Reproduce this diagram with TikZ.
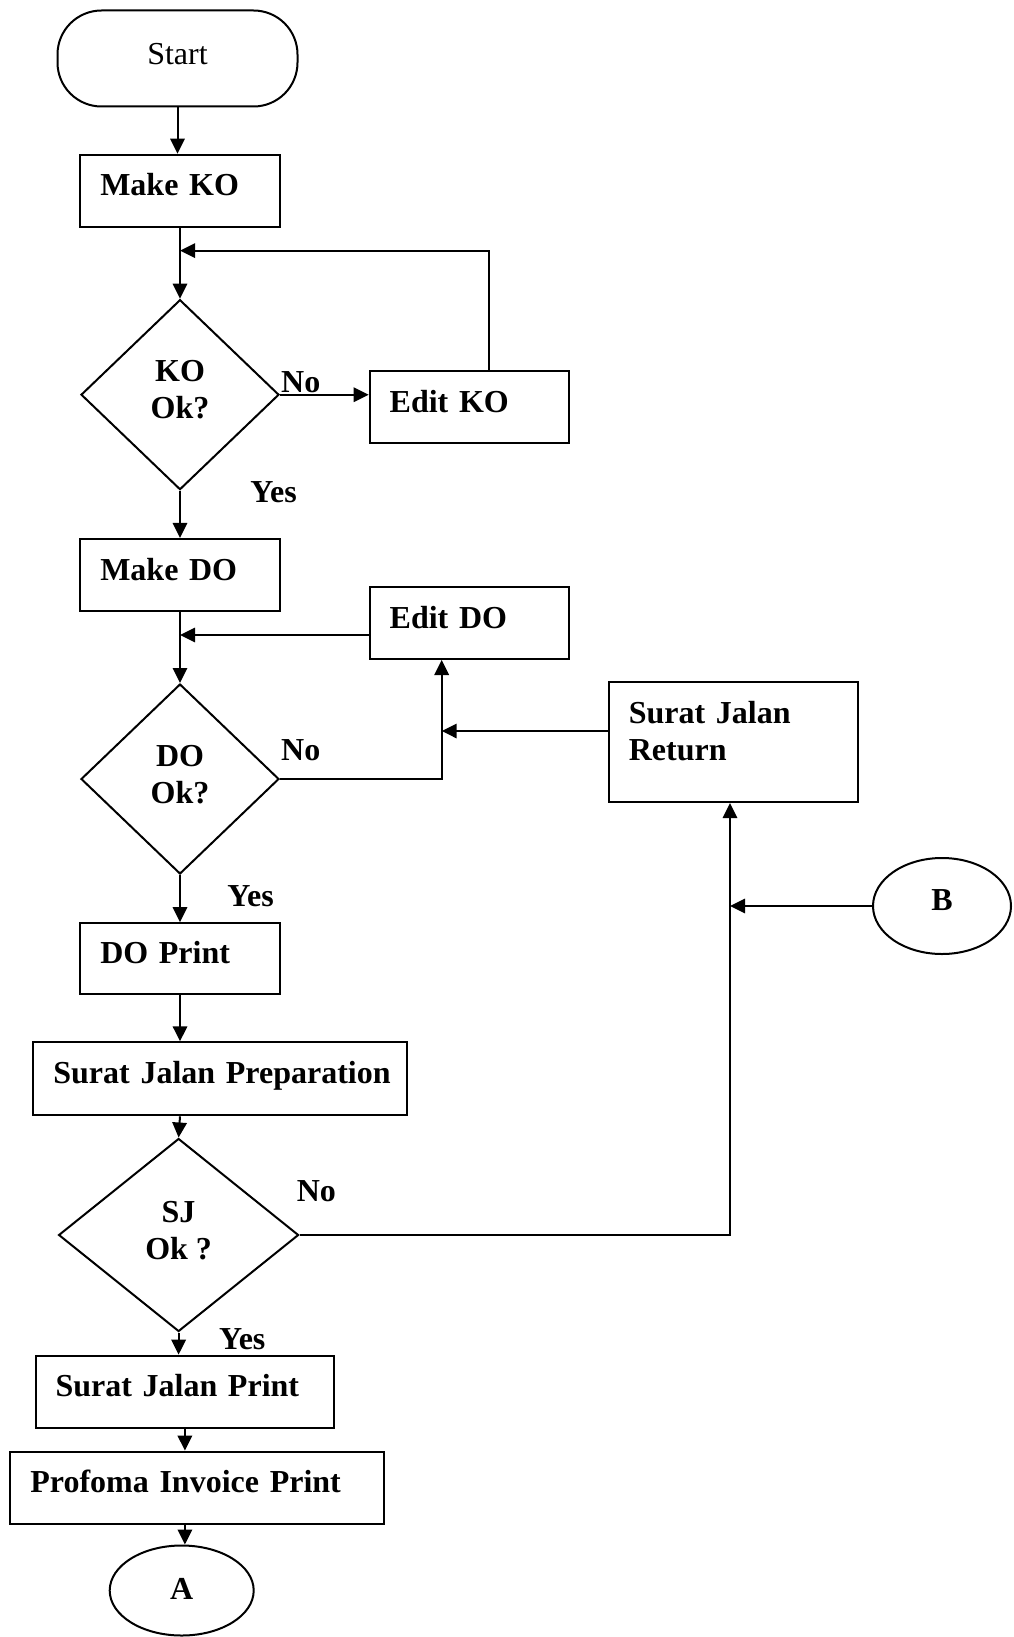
\documentclass[tikz,border=0pt]{standalone}
\usepackage{fontspec}
\setmainfont{Liberation Serif}
\usetikzlibrary{shapes.geometric,arrows.meta}
\begin{document}
\begin{tikzpicture}[x=0.5pt,y=-0.5pt,
  every node/.style={font=\fontsize{16}{18.5}\selectfont\bfseries},
  proc/.style={draw,line width=1pt,rectangle,inner xsep=10pt,inner ysep=0pt,align=left},
  decision/.style={draw,line width=1pt,diamond,inner sep=0pt,align=center,text depth=5pt},
  terminal/.style={draw,line width=1pt,rounded corners=22pt,minimum width=120pt,minimum height=48pt,
    text depth=5pt,font=\fontsize{16}{18.5}\selectfont},
  connector/.style={draw,line width=1pt,ellipse,inner sep=0pt},
  flow/.style={line width=1pt,-{Triangle[length=7.5pt,width=7.2pt]}},
  lbl/.style={inner sep=0pt}]
\useasboundingbox (0,0) rectangle (1013,1637);

% main column
\node[terminal] (start) at (177.5,58.5) {Start};
\node[proc,minimum width=99.75pt,minimum height=36pt,text width=79.75pt,text depth=6pt] (mko) at (180,190.6) {Make KO};
\node[decision,minimum width=99pt,minimum height=95pt] (kod) at (180,394.7) {KO\\Ok?};
\node[proc,minimum width=99.7pt,minimum height=36pt,text width=79.7pt,text depth=5.5pt] (eko) at (469.4,406.8) {Edit KO};
\node[proc,minimum width=99.75pt,minimum height=36pt,text width=79.75pt,text depth=6pt] (mdo) at (180,574.9) {Make DO};
\node[proc,minimum width=99.7pt,minimum height=36pt,text width=79.7pt,text depth=6pt] (edo) at (469.4,623) {Edit DO};
\node[decision,minimum width=99pt,minimum height=95pt] (dod) at (180,779) {DO\\Ok?};
\node[proc,minimum width=124.8pt,minimum height=60pt,text width=104.8pt,text depth=29.5pt] (sjr) at (733.6,742) {Surat Jalan\\Return};
\node[connector,minimum width=69pt,minimum height=48pt,text depth=6pt] (b) at (942,906) {B};
\node[proc,minimum width=99.75pt,minimum height=35.5pt,text width=79.75pt,text depth=6pt] (dop) at (180,958.7) {DO Print};
\node[proc,minimum width=187pt,minimum height=36.5pt,text width=167pt,text depth=6pt] (prep) at (220.4,1078.8) {\mbox{Surat Jalan Preparation}};
\node[decision,minimum width=120pt,minimum height=96.5pt] (sjd) at (178.6,1235) {SJ\\Ok ?};
\node[proc,minimum width=149.35pt,minimum height=36pt,text width=129.35pt,text depth=6pt] (sjp) at (184.9,1391.6) {Surat Jalan Print};
\node[proc,minimum width=187pt,minimum height=36pt,text width=167pt,text depth=6pt] (pip) at (197.4,1487.6) {\mbox{Profoma Invoice Print}};
\node[connector,minimum width=72pt,minimum height=45pt,text depth=1.5pt] (a) at (181.7,1590.5) {A};

% junction points on the connectors
\coordinate (j1) at (180,250.6);
\coordinate (j2) at (441.7,731);
\coordinate (j3) at (730,906);

% connectors
\draw[flow] (start.south) -- (start.south |- mko.north);
\draw[flow] (mko.south) -- (kod.north);
\draw[flow] (kod.east) -- (kod.east -| eko.west);
\draw[flow] ([xshift=9.65pt]eko.north) |- (j1);
\draw[flow] (kod.south) -- (mdo.north);
\draw[flow] ([yshift=-6pt]edo.west) -- ([yshift=-6pt]edo.west -| mdo.south);
\draw[flow] (mdo.south) -- (dod.north);
\draw[flow] (dod.east) -| (j2) -- (j2 |- edo.south);
\draw[flow] (sjr.west |- j2) -- (j2);
\draw[flow] (dod.south) -- (dop.north);
\draw[flow] (dop.south) -- (dop.south |- prep.north);
\draw[flow] (dop.south |- prep.south) -- (sjd.north);
\draw[flow] (sjd.east) -| (j3) -- (j3 |- sjr.south);
\draw[flow] (b.west) -- (j3);
\draw[flow] (sjd.south) -- (sjd.south |- sjp.north);
\draw[flow] (sjp.south) -- (sjp.south |- pip.north);
\draw[flow] (sjp.south |- pip.south) -- (sjp.south |- a.north);

% branch labels
\node[lbl] (no1) at (300.8,382.2) {No};
\node[lbl] (yes1) at (273.6,491.9) {Yes};
\node[lbl] (no2) at (300.8,749.8) {No};
\node[lbl] (yes2) at (250.6,896) {Yes};
\node[lbl] (no3) at (316.4,1191.5) {No};
\node[lbl] (yes3) at (242.3,1338.8) {Yes};
\end{tikzpicture}
\end{document}
